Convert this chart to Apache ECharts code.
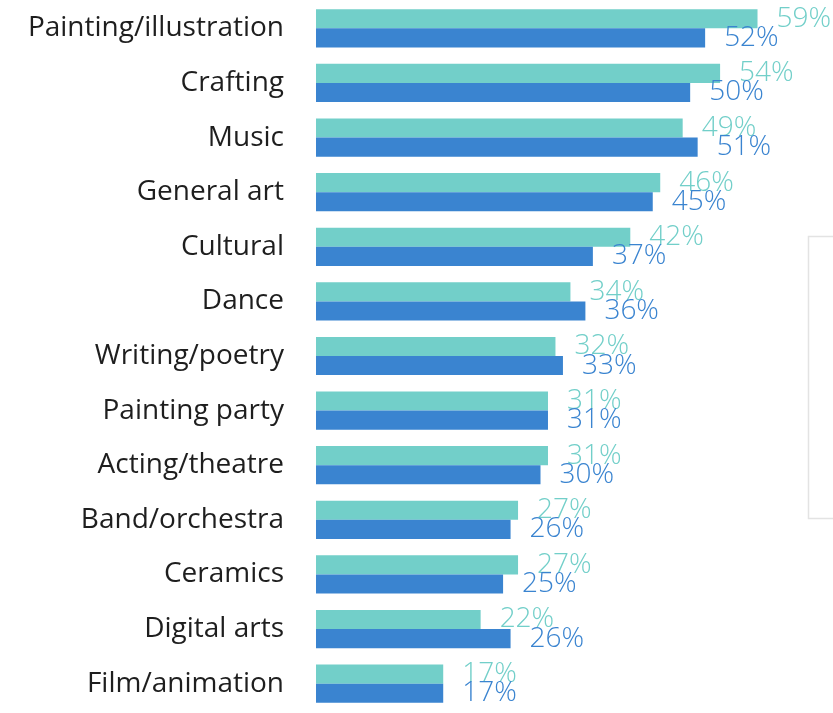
<!DOCTYPE html>
<html>
<head>
<meta charset="utf-8">
<script src="https://cdn.jsdelivr.net/npm/echarts@6/dist/echarts.min.js"></script>
<style>
    html, body { margin: 0; padding: 0; background: #fff; }
    #chart { width: 833px; height: 713px; }
</style>
</head>
<body>
<div id="chart"></div>
<script>
    // categories, top to bottom
    let categories = ['Painting/illustration', 'Crafting', 'Music', 'General art', 'Cultural', 'Dance',
        'Writing/poetry', 'Painting party', 'Acting/theatre', 'Band/orchestra', 'Ceramics', 'Digital arts', 'Film/animation'];
    // teal series (upper bar)
    let tealValues = [59, 54, 49, 46, 42, 34, 32, 31, 31, 27, 27, 22, 17];
    // blue series (lower bar)
    let blueValues = [52, 50, 51, 45, 37, 36, 33, 31, 30, 26, 25, 26, 17];

    let teal = '#72cfc9';
    let blue = '#3a84d0';

    function valueLabel(color) {
        return {
            show: true,
            position: 'right',
            distance: 19,
            formatter: '{c}%',
            color: color,
            fontSize: 28,
            fontWeight: 300,
            fontFamily: 'Open Sans'
        };
    }

    let myChart = echarts.init(document.getElementById('chart'));
    let option = {
        backgroundColor: '#fff',
        animation: false,
        grid: {
            left: 316,
            right: 68,
            top: 1,
            bottom: 2,
            containLabel: false
        },
        xAxis: {
            type: 'value',
            min: 0,
            max: 60,
            show: false
        },
        yAxis: {
            type: 'category',
            inverse: true,
            data: categories,
            axisLine: {show: false},
            axisTick: {show: false},
            axisLabel: {
                margin: 32,
                fontSize: 28,
                fontFamily: 'Open Sans',
                color: '#1e1e1e'
            }
        },
        // empty box on the right edge
        graphic: [{
            type: 'rect',
            shape: {x: 808.5, y: 236.5, width: 40, height: 282},
            style: {fill: 'none', stroke: '#e3e3e3', lineWidth: 1.5}
        }],
        series: [{
            type: 'bar',
            data: tealValues,
            itemStyle: {color: teal},
            barGap: '0%',
            barCategoryGap: '30%',
            label: valueLabel(teal)
        }, {
            type: 'bar',
            data: blueValues,
            itemStyle: {color: blue},
            barGap: '0%',
            barCategoryGap: '30%',
            label: valueLabel(blue)
        }]
    };
    myChart.setOption(option);
</script>
</body>
</html>
